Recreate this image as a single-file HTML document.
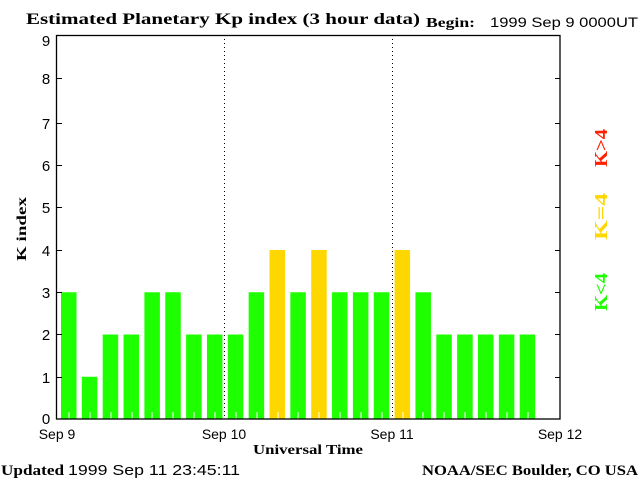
<!DOCTYPE html>
<html><head><meta charset="utf-8"><style>
html,body{margin:0;padding:0;background:#fff;}
svg{display:block;}
.s{font-family:"Liberation Serif",serif;font-weight:bold;}
.a{font-family:"Liberation Sans",sans-serif;}
</style></head><body>
<svg width="640" height="480" xmlns="http://www.w3.org/2000/svg">
<rect width="640" height="480" fill="#fff"/>
<text x="26" y="24" class="s" font-size="16" fill="#000" textLength="394" lengthAdjust="spacingAndGlyphs">Estimated Planetary Kp index (3 hour data)</text>
<text x="426" y="27" class="s" font-size="14" fill="#000" textLength="49" lengthAdjust="spacingAndGlyphs">Begin:</text>
<text x="490" y="27" class="a" font-size="14" fill="#000" textLength="148" lengthAdjust="spacingAndGlyphs">1999 Sep 9 0000UT</text>
<g>
<rect x="61" y="292.25" width="15.5" height="126.75" fill="#1eff00"/>
<rect x="81.85" y="376.75" width="15.5" height="42.25" fill="#1eff00"/>
<rect x="102.7" y="334.5" width="15.5" height="84.5" fill="#1eff00"/>
<rect x="123.55" y="334.5" width="15.5" height="84.5" fill="#1eff00"/>
<rect x="144.4" y="292.25" width="15.5" height="126.75" fill="#1eff00"/>
<rect x="165.25" y="292.25" width="15.5" height="126.75" fill="#1eff00"/>
<rect x="186.1" y="334.5" width="15.5" height="84.5" fill="#1eff00"/>
<rect x="206.95" y="334.5" width="15.5" height="84.5" fill="#1eff00"/>
<rect x="227.8" y="334.5" width="15.5" height="84.5" fill="#1eff00"/>
<rect x="248.65" y="292.25" width="15.5" height="126.75" fill="#1eff00"/>
<rect x="269.5" y="250" width="15.5" height="169" fill="#ffd700"/>
<rect x="290.35" y="292.25" width="15.5" height="126.75" fill="#1eff00"/>
<rect x="311.2" y="250" width="15.5" height="169" fill="#ffd700"/>
<rect x="332.05" y="292.25" width="15.5" height="126.75" fill="#1eff00"/>
<rect x="352.9" y="292.25" width="15.5" height="126.75" fill="#1eff00"/>
<rect x="373.75" y="292.25" width="15.5" height="126.75" fill="#1eff00"/>
<rect x="394.6" y="250" width="15.5" height="169" fill="#ffd700"/>
<rect x="415.45" y="292.25" width="15.5" height="126.75" fill="#1eff00"/>
<rect x="436.3" y="334.5" width="15.5" height="84.5" fill="#1eff00"/>
<rect x="457.15" y="334.5" width="15.5" height="84.5" fill="#1eff00"/>
<rect x="478" y="334.5" width="15.5" height="84.5" fill="#1eff00"/>
<rect x="498.85" y="334.5" width="15.5" height="84.5" fill="#1eff00"/>
<rect x="519.7" y="334.5" width="15.5" height="84.5" fill="#1eff00"/>
</g>
<g stroke="#fff" stroke-width="1">
<line x1="69" y1="412" x2="69" y2="419"/><line x1="90" y1="412" x2="90" y2="419"/>
<line x1="111" y1="412" x2="111" y2="419"/><line x1="132" y1="412" x2="132" y2="419"/>
<line x1="152" y1="412" x2="152" y2="419"/><line x1="173" y1="412" x2="173" y2="419"/>
<line x1="194" y1="412" x2="194" y2="419"/><line x1="215" y1="412" x2="215" y2="419"/>
<line x1="236" y1="412" x2="236" y2="419"/><line x1="257" y1="412" x2="257" y2="419"/>
<line x1="278" y1="412" x2="278" y2="419"/><line x1="298" y1="412" x2="298" y2="419"/>
<line x1="319" y1="412" x2="319" y2="419"/><line x1="340" y1="412" x2="340" y2="419"/>
<line x1="361" y1="412" x2="361" y2="419"/><line x1="382" y1="412" x2="382" y2="419"/>
<line x1="403" y1="412" x2="403" y2="419"/><line x1="423" y1="412" x2="423" y2="419"/>
<line x1="444" y1="412" x2="444" y2="419"/><line x1="465" y1="412" x2="465" y2="419"/>
<line x1="486" y1="412" x2="486" y2="419"/><line x1="507" y1="412" x2="507" y2="419"/>
<line x1="528" y1="412" x2="528" y2="419"/>
</g>
<line x1="224.5" y1="35" x2="224.5" y2="419" stroke="#000" stroke-dasharray="1,3"/>
<line x1="392.5" y1="35" x2="392.5" y2="419" stroke="#000" stroke-dasharray="1,3"/>
<rect x="56.5" y="35.5" width="503.5" height="383.5" fill="none" stroke="#000" stroke-width="1.3"/>
<g stroke="#000">
<line x1="57" y1="377.5" x2="62" y2="377.5"/><line x1="555" y1="377.5" x2="560" y2="377.5"/>
<line x1="57" y1="334.5" x2="62" y2="334.5"/><line x1="555" y1="334.5" x2="560" y2="334.5"/>
<line x1="57" y1="292.5" x2="62" y2="292.5"/><line x1="555" y1="292.5" x2="560" y2="292.5"/>
<line x1="57" y1="250.5" x2="62" y2="250.5"/><line x1="555" y1="250.5" x2="560" y2="250.5"/>
<line x1="57" y1="207.5" x2="62" y2="207.5"/><line x1="555" y1="207.5" x2="560" y2="207.5"/>
<line x1="57" y1="165.5" x2="62" y2="165.5"/><line x1="555" y1="165.5" x2="560" y2="165.5"/>
<line x1="57" y1="123.5" x2="62" y2="123.5"/><line x1="555" y1="123.5" x2="560" y2="123.5"/>
<line x1="57" y1="78.5" x2="62" y2="78.5"/><line x1="555" y1="78.5" x2="560" y2="78.5"/>
</g>
<g class="a" font-size="15" fill="#000" text-anchor="middle">
<text x="46" y="424">0</text><text x="46" y="383">1</text><text x="46" y="340">2</text>
<text x="46" y="298">3</text><text x="46" y="256">4</text><text x="46" y="213">5</text>
<text x="46" y="171">6</text><text x="46" y="129">7</text><text x="46" y="84">8</text><text x="46" y="46">9</text>
</g>
<g class="a" font-size="14" fill="#000" text-anchor="middle">
<text x="57" y="439">Sep 9</text><text x="224" y="439">Sep 10</text>
<text x="392" y="439">Sep 11</text><text x="560" y="439">Sep 12</text>
</g>
<text x="253" y="454" class="s" font-size="14" fill="#000" textLength="110" lengthAdjust="spacingAndGlyphs">Universal Time</text>
<text transform="translate(26,261) rotate(-90)" class="s" font-size="14" fill="#000" textLength="64" lengthAdjust="spacingAndGlyphs">K index</text>
<text transform="translate(607,167) rotate(-90)" class="s" font-size="18" fill="#ff2000" textLength="38" lengthAdjust="spacingAndGlyphs">K&gt;4</text>
<text transform="translate(607,240) rotate(-90)" class="s" font-size="18" fill="#ffd700" textLength="47" lengthAdjust="spacingAndGlyphs">K=4</text>
<text transform="translate(607,311) rotate(-90)" class="s" font-size="18" fill="#1eff00" textLength="38" lengthAdjust="spacingAndGlyphs">K&lt;4</text>
<text x="1" y="475" class="s" font-size="15" fill="#000" textLength="63" lengthAdjust="spacingAndGlyphs">Updated</text>
<text x="68" y="475" class="a" font-size="15" fill="#000" textLength="172" lengthAdjust="spacingAndGlyphs">1999 Sep 11 23:45:11</text>
<text x="422" y="475" class="s" font-size="15" fill="#000" textLength="216" lengthAdjust="spacingAndGlyphs">NOAA/SEC Boulder, CO USA</text>
</svg>
</body></html>
